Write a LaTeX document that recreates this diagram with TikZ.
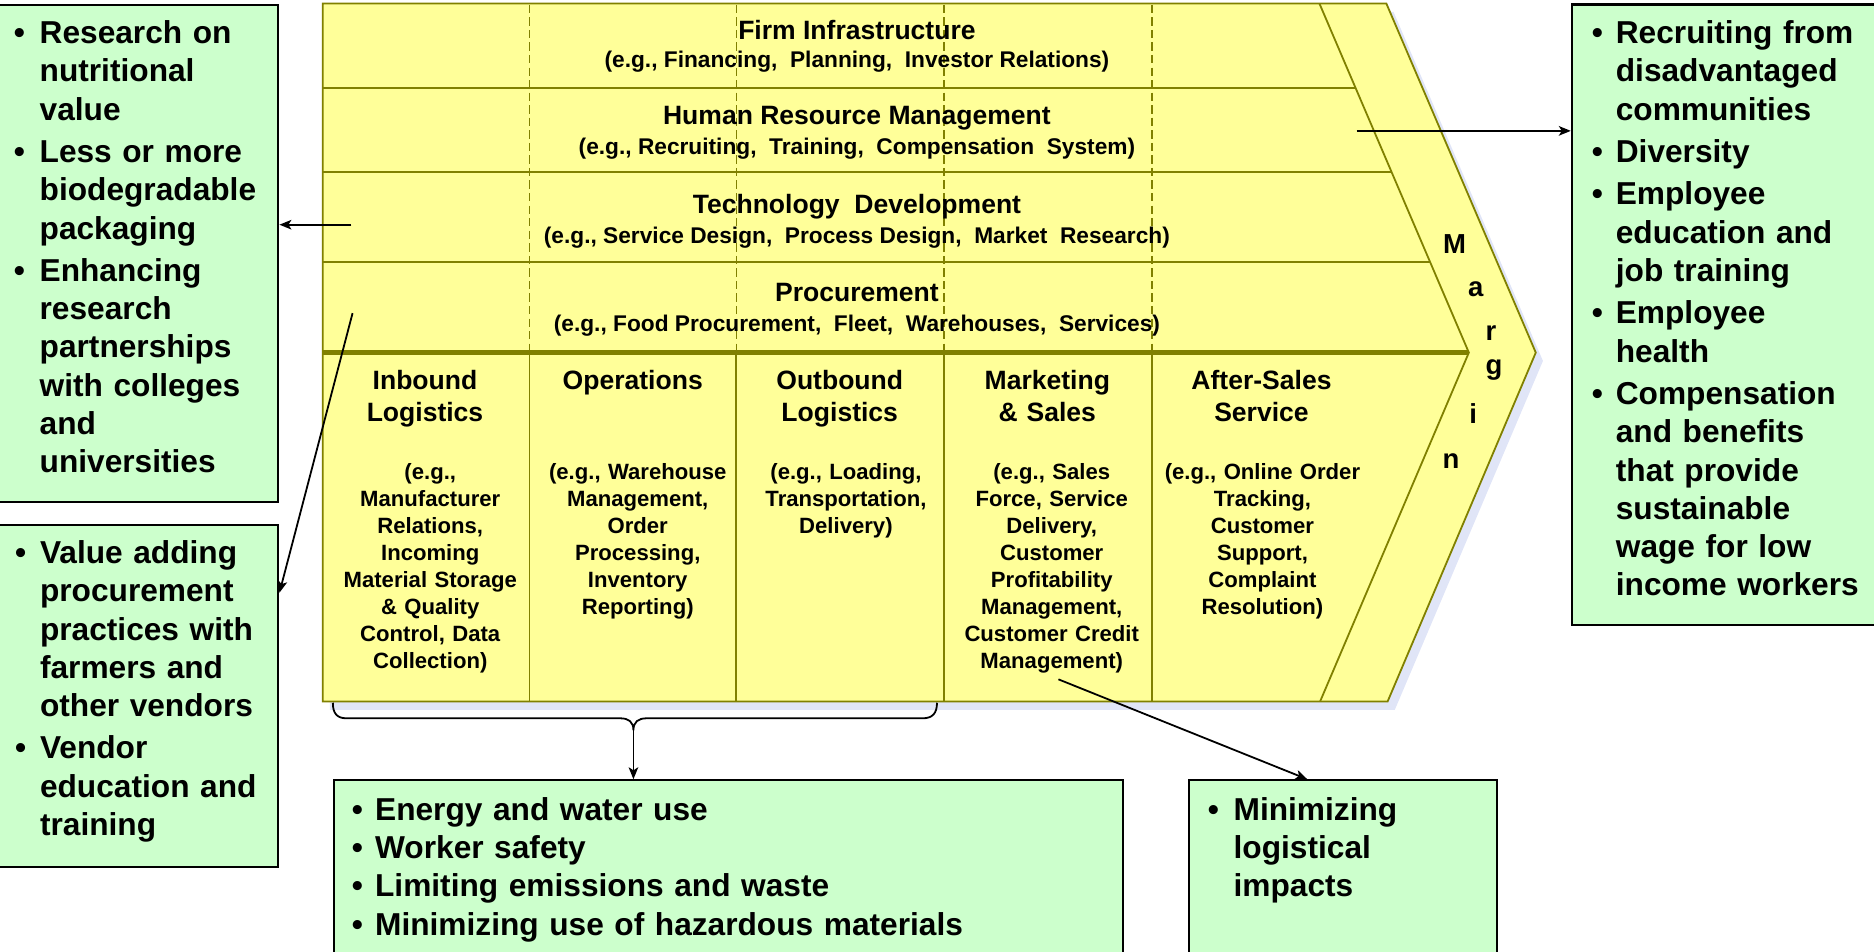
\documentclass[tikz,border=0pt]{standalone}
\usepackage{fontspec}
\setmainfont{Liberation Sans}
\usetikzlibrary{arrows.meta,calc}
\definecolor{vcyellow}{HTML}{FFFF99}
\definecolor{vcline}{HTML}{808000}
\definecolor{vcgreen}{HTML}{CCFFCC}
\definecolor{vcshadow}{HTML}{E0E5F7}
\newlength\bh
\newcommand\bfirst[1]{\hangindent=\bh\hangafter=1\noindent\makebox[\bh][l]{\textbullet}#1\par}
\newcommand\bnext[1]{\vspace{3.5pt}\bfirst{#1}}
\tikzset{
 gbox/.style={draw=black, line width=1.8pt, fill=vcgreen, anchor=north west, inner sep=0pt},
 glist/.style={anchor=base west, inner sep=0pt, text width=700pt, font=\fontsize{26.5}{32}\selectfont\bfseries},
 stitle/.style={anchor=base, inner sep=0pt, font=\fontsize{22.2}{26.8}\selectfont\bfseries},
 ssub/.style={anchor=base, inner sep=0pt, font=\fontsize{19}{23}\selectfont\bfseries},
 ptitle/.style={anchor=base, inner sep=0pt, text width=172pt, align=center, font=\fontsize{22.2}{26.8}\selectfont\bfseries},
 pdesc/.style={anchor=base, inner sep=0pt, text width=172pt, align=center, font=\fontsize{18.5}{22.5}\selectfont\bfseries},
 mletter/.style={anchor=base, inner sep=0pt, font=\fontsize{23}{26}\selectfont\bfseries},
 vcl/.style={draw=vcline, line width=1.5pt},
 conn/.style={draw=black, line width=1.5pt, -{Stealth[length=10pt,width=8pt,inset=2.5pt]}},
}
\begin{document}
\begin{tikzpicture}[x=1pt,y=-1pt]
\useasboundingbox (0,0) rectangle (1568,796);
% shadow
\fill[vcshadow, shift={(6,7)}] (270,3) -- (1160,3) -- (1285,295) -- (1161,587) -- (270,587) -- cycle;
% value chain body
\draw[vcl, fill=vcyellow] (270,3) -- (1160,3) -- (1285,295) -- (1161,587) -- (270,587) -- cycle;
\draw[vcl] (1104,3) -- (1229,295) -- (1104.5,587);
\draw[vcl] (270,73.4) -- (1134.1,73.4);
\draw[vcl] (270,144) -- (1164.4,144);
\draw[vcl] (270,219) -- (1196.5,219);
\foreach \x in {443,616,790,964} {
  \draw[draw=vcline, line width=1.2pt, dash pattern=on 7pt off 3.5pt] (\x,4) -- (\x,293);
  \draw[vcl] (\x,295) -- (\x,587);
}
\draw[draw=vcline, line width=4pt] (270,295) -- (1229,295);
% support activities
\node[stitle] (fi) at (717,33) {Firm Infrastructure};
\node[ssub] (fis) at (717,56.5) {(e.g., Financing,\ \ Planning,\ \ Investor Relations)};
\node[stitle] (hr) at (717,104) {Human Resource Management};
\node[ssub] (hrs) at (717,129) {(e.g., Recruiting,\ \ Training,\ \ Compensation\ \ System)};
\node[stitle] (td) at (717,178.5) {Technology\ \ Development};
\node[ssub] (tds) at (717,203.6) {(e.g., Service Design,\ \ Process Design,\ \ Market\ \ Research)};
\node[stitle] (pr) at (717,252.4) {Procurement};
\node[ssub] (prs) at (717,277.5) {(e.g., Food Procurement,\ \ Fleet,\ \ Warehouses,\ \ Services)};
% primary activities
\node[ptitle] (ib) at (355.6,326) {Inbound\\Logistics};
\node[pdesc] (ibd) at (360,401.6) {(e.g.,\\Manufacturer\\Relations,\\Incoming\\Material Storage\\\& Quality\\Control, Data\\Collection)};
\node[ptitle] (op) at (529.4,326) {Operations};
\node[pdesc] (opd) at (533.6,401.6) {(e.g., Warehouse\\Management,\\Order\\Processing,\\Inventory\\Reporting)};
\node[ptitle] (ob) at (702.6,326) {Outbound\\Logistics};
\node[pdesc] (obd) at (707.8,401.6) {(e.g., Loading,\\Transportation,\\Delivery)};
\node[ptitle] (ms) at (876.3,326) {Marketing\\\& Sales};
\node[pdesc] (msd) at (880,401.6) {(e.g., Sales\\Force, Service\\Delivery,\\Customer\\Profitability\\Management,\\Customer Credit\\Management)};
\node[ptitle] (as) at (1055.5,326) {After-Sales\\Service};
\node[pdesc] (asd) at (1056.3,401.6) {(e.g., Online Order\\Tracking,\\Customer\\Support,\\Complaint\\Resolution)};
% margin
\node[mletter] (m1) at (1217,212) {M};
\node[mletter] (m2) at (1234.7,248) {a};
\node[mletter] (m3) at (1247.6,284.5) {r};
\node[mletter] (m4) at (1250,313) {g};
\node[mletter] (m5) at (1232.6,354.5) {i};
\node[mletter] (m6) at (1214,392) {n};
% green boxes
\node[gbox, minimum width=236pt, minimum height=416pt] (lbox1) at (-4,3) {};
\node[gbox, minimum width=236pt, minimum height=286pt] (lbox2) at (-4,438.4) {};
\node[gbox, minimum width=270pt, minimum height=519pt] (rbox) at (1314.3,2.8) {};
\node[gbox, minimum width=660.5pt, minimum height=160pt] (mbox) at (278.5,652) {};
\node[gbox, minimum width=257.5pt, minimum height=160pt] (rbox2) at (994,652) {};
\node[glist] (lt1) at (11.5,36.5) {\setlength\bh{21.5pt}%
\bfirst{Research on\newline nutritional\newline value}%
\bnext{Less or more\newline biodegradable\newline packaging}%
\bnext{Enhancing\newline research\newline partnerships\newline with colleges\newline and\newline universities}};
\node[glist] (lt2) at (12.5,471.5) {\setlength\bh{20.8pt}%
\bfirst{Value adding\newline procurement\newline practices with\newline farmers and\newline other vendors}%
\bnext{Vendor\newline education and\newline training}};
\node[glist] (rt) at (1331.8,36.5) {\setlength\bh{20pt}%
\bfirst{Recruiting from\newline disadvantaged\newline communities}%
\bnext{Diversity}%
\bnext{Employee\newline education and\newline job training}%
\bnext{Employee\newline health}%
\bnext{Compensation\newline and benefits\newline that provide\newline sustainable\newline wage for low\newline income workers}};
\node[glist] (mt) at (294.3,686.5) {\setlength\bh{19.4pt}%
\bfirst{Energy and water use}%
\vspace{-3.5pt}\bnext{Worker safety}%
\vspace{-3.5pt}\bnext{Limiting emissions and waste}%
\vspace{-3.5pt}\bnext{Minimizing use of hazardous materials}};
\node[glist] (r2t) at (1010.4,686.5) {\setlength\bh{21.6pt}%
\bfirst{Minimizing\newline logistical\newline impacts}};
% connectors
\coordinate (hrsrc) at (1135,109.5);
\coordinate (tdsrc) at (294,188);
\coordinate (prsrc) at (295,262);
\coordinate (mksrc) at (885.6,568.4);
\coordinate (bracetip) at (530,611);
\draw[conn] (hrsrc) -- (hrsrc -| rbox.west);
\draw[conn] (tdsrc) -- (tdsrc -| lbox1.east);
\draw[conn] (prsrc) -- ($(lbox2.north east)!0.2!(lbox2.south east)$);
\draw[conn] (mksrc) -- ($(rbox2.north west)!0.385!(rbox2.north east)$);
\draw[line width=1.5pt] (278.5,588) .. controls (278.5,597) and (282,601) .. (290,601) -- (519,601) .. controls (526,601) and (530,604) .. (bracetip) .. controls (530,604) and (534,601) .. (541,601) -- (772,601) .. controls (780,601) and (784,597) .. (784,588);
\draw[conn] (bracetip) -- (bracetip |- mbox.north);
\end{tikzpicture}
\end{document}
